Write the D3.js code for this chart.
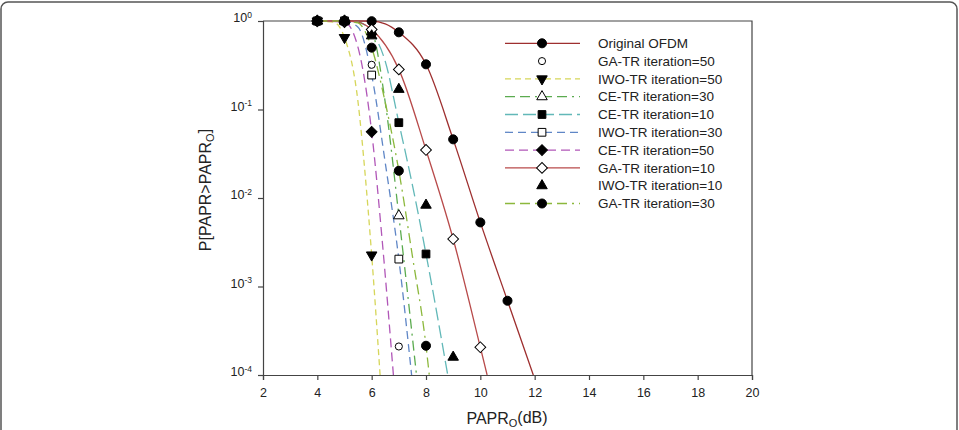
<!DOCTYPE html>
<html>
<head>
<meta charset="utf-8">
<script src="https://cdn.jsdelivr.net/npm/d3@7"></script>
<style>
  body { margin:0; background:#fff; }
  svg text { font-family: "Liberation Sans", Arial, Helvetica, sans-serif; fill:#222; }
</style>
</head>
<body>
<div id="plot"></div>
<script>
// readings: [PAPRo (dB), probability]
// integer x = simulated point (gets a marker), others are read along the curve
var originalOfdm = [[4,1],[5,1],[6,0.995],[6.5,0.93],[7,0.745],[8,0.324],[9,0.046],[10,0.0053],[11,0.00069],[11.95,0.0001]];
var gaTr50      = [[4,1],[5,1],[6,0.32],[7,0.00021]];
var iwoTr50     = [[4,1],[4.6,0.97],[5,0.65],[5.5,0.12],[5.75,0.02],[6,0.00227],[6.31,0.0001]];
var ceTr30      = [[4,1],[5,1],[5.5,0.97],[6,0.76],[6.5,0.12],[7,0.0063],[7.65,0.0001]];
var ceTr10      = [[4,1],[5,1],[5.5,0.97],[6,0.75],[6.5,0.35],[7,0.071],[7.5,0.014],[8,0.00233],[8.8,0.0001]];
var iwoTr30     = [[4,1],[5,1],[5.5,0.85],[6,0.245],[6.5,0.025],[7,0.00204],[7.47,0.0001]];
var ceTr50      = [[4,1],[5,0.97],[5.5,0.5],[6,0.056],[6.4,0.003],[6.8,0.0001]];
var gaTr10      = [[4,1],[5,1],[5.5,0.97],[6,0.8],[7,0.284],[8,0.0349],[9,0.00344],[10,0.000206],[10.25,0.0001]];
var iwoTr10     = [[4,1],[5,1],[6,0.68],[7,0.169],[8,0.0083],[9,0.000159]];
var gaTr30      = [[4,1],[5,1],[5.5,0.95],[6,0.5],[6.5,0.12],[7,0.0203],[7.5,0.0022],[8,0.000214],[8.12,0.0001]];

var seriesNames = ['Original OFDM','GA-TR iteration=50','IWO-TR iteration=50','CE-TR iteration=30','CE-TR iteration=10',
                   'IWO-TR iteration=30','CE-TR iteration=50','GA-TR iteration=10','IWO-TR iteration=10','GA-TR iteration=30'];
var xTicks = [2,4,6,8,10,12,14,16,18,20];
var yTicks = [1e-4,1e-3,1e-2,1e-1,1];

// styling per series (same order as names)
var series = [
  {data:originalOfdm, color:'#9e2f2f', dash:null,          line:true,  mark:'circle',   fill:'#000'},
  {data:gaTr50,       color:null,      dash:null,          line:false, mark:'circleS',  fill:'#fff'},
  {data:iwoTr50,      color:'#d6d65a', dash:'6,4',         line:true,  mark:'triDown',  fill:'#000'},
  {data:ceTr30,       color:'#5bab4f', dash:'10,5,10,5,2,5', line:true, mark:'triUp',   fill:'#fff'},
  {data:ceTr10,       color:'#62b8b8', dash:'13,5',        line:true,  mark:'square',   fill:'#000'},
  {data:iwoTr30,      color:'#5f86c6', dash:'8,5',         line:true,  mark:'square',   fill:'#fff'},
  {data:ceTr50,       color:'#b157b8', dash:'9,5',         line:true,  mark:'diamond',  fill:'#000'},
  {data:gaTr10,       color:'#b84a4a', dash:null,          line:true,  mark:'diamond',  fill:'#fff'},
  {data:iwoTr10,      color:null,      dash:null,          line:false, mark:'triUp',    fill:'#000'},
  {data:gaTr30,       color:'#8cb83c', dash:'10,5,10,5,2,5', line:true, mark:'circle',  fill:'#000'}
];

var W = 959, H = 430;
var svg = d3.select('#plot').append('svg').attr('width',W).attr('height',H);

// outer figure frame (rounded, runs off the bottom)
svg.append('rect').attr('x',1).attr('y',2).attr('width',956).attr('height',460)
   .attr('rx',7).style('fill','none').style('stroke','#555').style('stroke-width',1.5);

var x = d3.scaleLinear().domain([2,20]).range([263,752]);
var y = d3.scaleLog().domain([1e-4,1]).range([375,21]);

svg.append('clipPath').attr('id','clip').append('rect')
   .attr('x',263).attr('y',20).attr('width',489).attr('height',355);

// axes
var xAxis = svg.append('g').attr('transform','translate(0,375)')
   .call(d3.axisBottom(x).tickValues(xTicks).tickSize(5).tickPadding(8).tickFormat(d3.format('d')));
var yAxis = svg.append('g').attr('transform','translate(263,0)')
   .call(d3.axisLeft(y).tickValues(yTicks).tickSize(5).tickFormat(function(){return '';}));
[xAxis,yAxis].forEach(function(a){
  a.select('.domain').style('stroke','#444').style('stroke-width',1.2);
  a.selectAll('.tick line').style('stroke','#444').style('stroke-width',1.2);
  a.selectAll('text').style('font-size','12.5px').style('font-family','"Liberation Sans", Arial, sans-serif').style('fill','#222');
});
// top and right border of the plot box
svg.append('path').attr('d','M263,21H752V375').style('fill','none').style('stroke','#444').style('stroke-width',1.2);

// y tick labels 10^n
var yl = svg.append('g').selectAll('text').data(yTicks).enter().append('text')
   .attr('x',252).attr('y',function(d){return y(d);}).attr('dy','0.1em')
   .attr('text-anchor','end').style('font-size','12.5px');
yl.append('tspan').text('10');
yl.append('tspan').attr('dy','-0.55em').style('font-size','8.5px').text(function(d){return Math.round(Math.log10(d));});

// axis titles
var xt = svg.append('text').attr('x',507).attr('y',424).attr('text-anchor','middle').style('font-size','16px');
xt.append('tspan').text('PAPR');
xt.append('tspan').attr('dy','0.25em').style('font-size','11px').text('O');
xt.append('tspan').attr('dy','-0.25em').text('(dB)');

var yt = svg.append('text').attr('transform','translate(211,190) rotate(-90)').attr('text-anchor','middle').style('font-size','16px');
yt.append('tspan').text('P[PAPR>PAPR');
yt.append('tspan').attr('dy','0.3em').style('font-size','11px').text('O');
yt.append('tspan').attr('dy','-0.3em').text(']');

// symbols
function symbolPath(kind){
  if (kind==='circle')  return d3.symbol().type(d3.symbolCircle).size(64)();
  if (kind==='circleS') return d3.symbol().type(d3.symbolCircle).size(40)();
  if (kind==='triUp' || kind==='triDown') return d3.symbol().type(d3.symbolTriangle).size(48)();
  if (kind==='square')  return d3.symbol().type(d3.symbolSquare).size(60)();
  if (kind==='diamond') return d3.symbol().type(d3.symbolSquare).size(58)();
}
function symbolRot(kind){
  if (kind==='triDown') return 180;
  if (kind==='diamond') return 45;
  return 0;
}

var line = d3.line()
   .x(function(d){return x(d[0]);})
   .y(function(d){return y(d[1]);})
   .curve(d3.curveMonotoneX);

var lines = svg.append('g').attr('clip-path','url(#clip)');
series.forEach(function(s){
  if (!s.line) return;
  lines.append('path').datum(s.data).attr('d',line)
     .style('fill','none').style('stroke',s.color).style('stroke-width',1.3)
     .style('stroke-dasharray',s.dash);
});

var marks = svg.append('g');
series.forEach(function(s){
  marks.selectAll(null)
     .data(s.data.filter(function(d){return Number.isInteger(d[0]) && d[1] >= 1e-4;}))
     .enter().append('path')
     .attr('d',symbolPath(s.mark))
     .attr('transform',function(d){return 'translate('+x(d[0])+','+y(d[1])+') rotate('+symbolRot(s.mark)+')';})
     .style('fill',s.fill).style('stroke','#000').style('stroke-width',1);
});

// legend
var leg = svg.append('g').selectAll('g').data(series).enter().append('g')
   .attr('transform',function(d,i){return 'translate(0,'+(43.3+i*17.8)+')';});
leg.filter(function(d){return d.line;}).append('line')
   .attr('x1',505).attr('x2',580).attr('y1',0).attr('y2',0)
   .style('stroke',function(d){return d.color;}).style('stroke-width',1.3)
   .style('stroke-dasharray',function(d){return d.dash;});
leg.append('path')
   .attr('d',function(d){return symbolPath(d.mark);})
   .attr('transform',function(d){return 'translate(542,0) rotate('+symbolRot(d.mark)+')';})
   .style('fill',function(d){return d.fill;}).style('stroke','#000').style('stroke-width',1);
leg.append('text').attr('x',598).attr('dy','0.35em').style('font-size','13.5px')
   .text(function(d,i){return seriesNames[i];});
</script>
</body>
</html>
